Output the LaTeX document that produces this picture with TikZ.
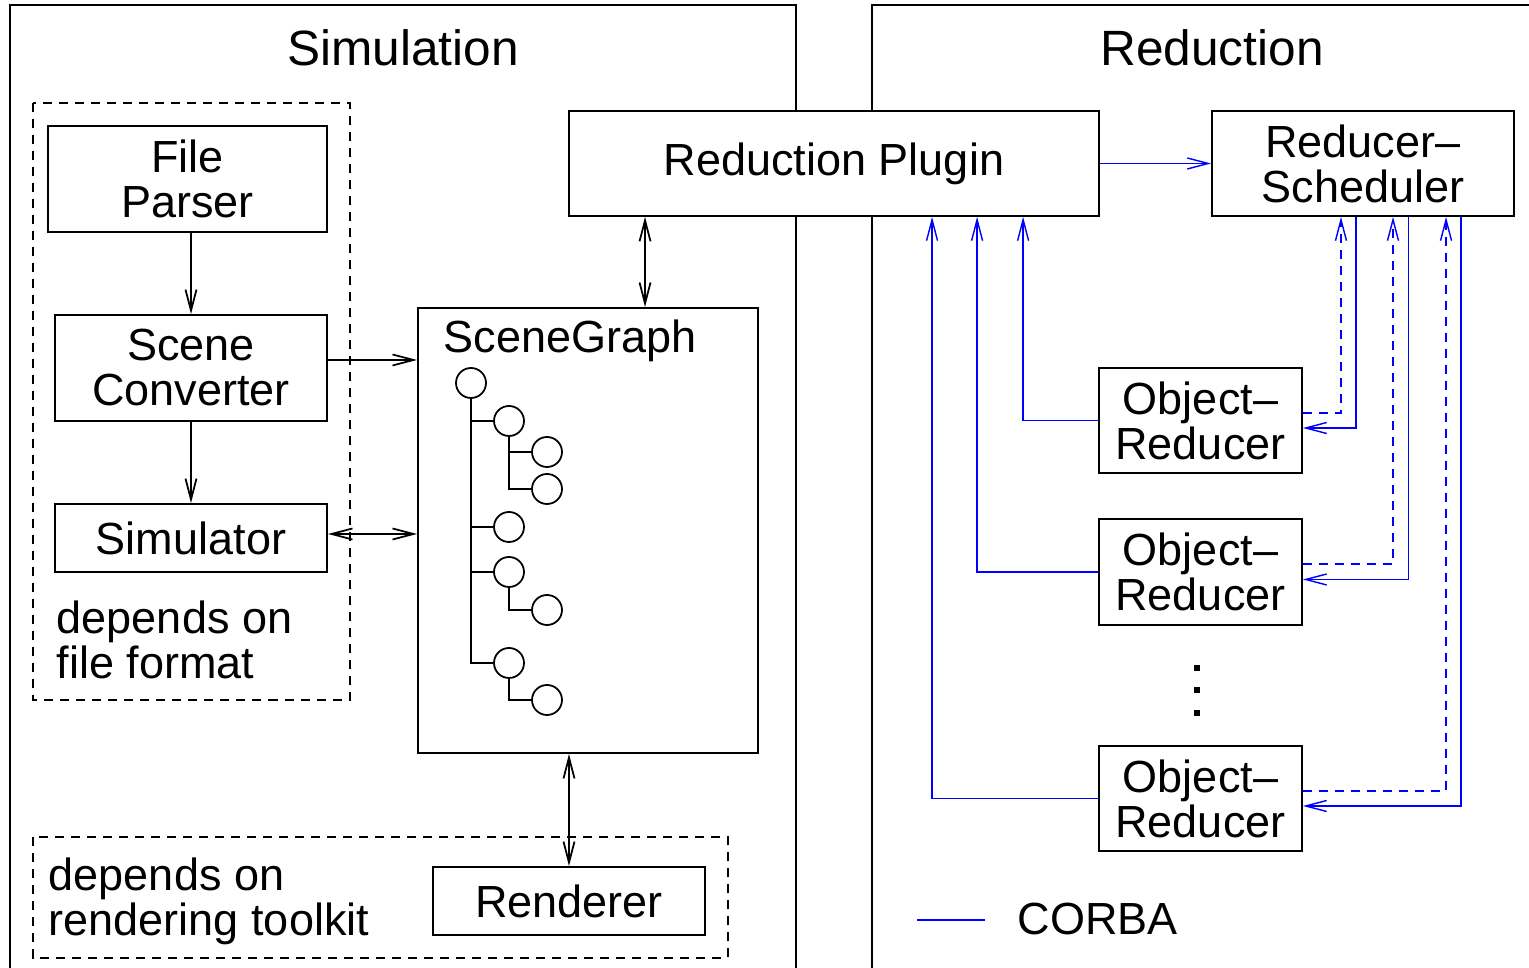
\documentclass[tikz,border=0pt]{standalone}
\usepackage{fontspec}
\setmainfont{Liberation Sans}
\usetikzlibrary{arrows.meta}

\begin{document}
\begin{tikzpicture}[x=0.01cm, y=-0.01cm, line width=0.5pt,
    >={Straight Barb[length=0.21cm, width=0.11cm]},
    txt/.style = {inner sep=0pt, font=\fontsize{12.8}{12.8}\selectfont},
    head/.style = {inner sep=0pt, font=\fontsize{14.1}{14.1}\selectfont},
    box/.style = {txt, draw, fill=white, align=center},
    sg/.style = {draw, circle, inner sep=0pt, minimum size=0.3cm},
    dsh/.style = {dash pattern=on 0.09cm off 0.07cm},
    corba/.style = {draw=blue, line width=0.4pt}]
    \useasboundingbox (0,0) rectangle (1529,968);

    \draw (10,968) |- (796,5) -- (796,968);
    \draw (872,968) |- (1529,5);
    \node[head, anchor=base] (simtitle) at (403,66) {Simulation};
    \node[head, anchor=base] (redtitle) at (1212,66) {Reduction};

    \draw[dsh] (33,103) rectangle (350,700);
    \draw[dsh] (33,837) rectangle (728,958);

    \node[box, minimum width=2.79cm, minimum height=1.06cm] (parser) at (187.5,179) {File\\Parser};
    \node[box, minimum width=2.72cm, minimum height=1.06cm] (conv) at (191,368) {Scene\\Converter};
    \node[box, minimum width=2.72cm, minimum height=0.68cm] (simu) at (191,538) {Simulator};
    \node[txt, anchor=north west, align=left] (dep1) at (56,600) {depends on\\file format};

    \node[box, minimum width=3.40cm, minimum height=4.45cm] (sgraph) at (588,530.5) {};
    \node[txt, anchor=base west] (sglabel) at (443,353) {SceneGraph};
    \node[box, minimum width=2.72cm, minimum height=0.68cm] (rend) at (569,901) {Renderer};
    \node[txt, anchor=north west, align=left] (dep2) at (48,857) {depends on\\rendering toolkit};

    \node[box, minimum width=5.30cm, minimum height=1.05cm] (rp) at (834,163.5) {Reduction Plugin};
    \node[box, minimum width=3.02cm, minimum height=1.05cm] (rs) at (1363,163.5) {Reducer–\\Scheduler};
    \node[box, minimum width=2.03cm, minimum height=1.05cm] (or1) at (1200.5,420.5) {Object–\\Reducer};
    \node[box, minimum width=2.03cm, minimum height=1.06cm] (or2) at (1200.5,572) {Object–\\Reducer};
    \node[box, minimum width=2.03cm, minimum height=1.05cm] (or3) at (1200.5,798.5) {Object–\\Reducer};
    \fill (1194,665) rectangle (1200,671);
    \fill (1194,687) rectangle (1200,693);
    \fill (1194,710) rectangle (1200,716);

    % scene graph tree
    \node[sg] (t0) at (471,383) {};
    \node[sg] (t1) at (509,421) {};
    \node[sg] (t2) at (509,527) {};
    \node[sg] (t3) at (509,572) {};
    \node[sg] (t4) at (509,663) {};
    \node[sg] (t11) at (547,452) {};
    \node[sg] (t12) at (547,489) {};
    \node[sg] (t31) at (547,610) {};
    \node[sg] (t41) at (547,700) {};
    \draw (t0) |- (t1);
    \draw (t0) |- (t2);
    \draw (t0) |- (t3);
    \draw (t0) |- (t4);
    \draw (t1) |- (t11);
    \draw (t1) |- (t12);
    \draw (t3) |- (t31);
    \draw (t4) |- (t41);

    % simulation side
    \coordinate (c1) at ([yshift=0.08cm]conv.east);
    \coordinate (c2) at ([yshift=0.04cm]simu.east);
    \coordinate (c3) at ([xshift=0.57cm]sgraph.north);
    \draw[->] (parser.south -| conv.north) -- (conv.north);
    \draw[->] (conv.south) -- (simu.north);
    \draw[->] (c1) -- (c1 -| sgraph.west);
    \draw[<->] (c2) -- (c2 -| sgraph.west);
    \draw[<->] (c3 |- rp.south) -- (c3);
    \draw[<->] (rend.north |- sgraph.south) -- (rend.north);

    % corba links
    \draw[corba, ->] (rp) -- (rs);
    \draw[corba, ->] (or1.west) -| ([xshift=1.89cm]rp.south);
    \draw[corba, ->] (or2.west) -| ([xshift=1.43cm]rp.south);
    \draw[corba, ->] (or3.west) -| ([xshift=0.98cm]rp.south);
    \draw[corba, dsh, ->] ([yshift=0.075cm]or1.east) -| ([xshift=-0.22cm]rs.south);
    \draw[corba, ->] ([xshift=-0.07cm]rs.south) |- ([yshift=-0.075cm]or1.east);
    \draw[corba, dsh, ->] ([yshift=0.08cm]or2.east) -| ([xshift=0.30cm]rs.south);
    \draw[corba, ->] ([xshift=0.455cm]rs.south) |- ([yshift=-0.075cm]or2.east);
    \draw[corba, dsh, ->] ([yshift=0.075cm]or3.east) -| ([xshift=0.83cm]rs.south);
    \draw[corba, ->] ([xshift=0.98cm]rs.south) |- ([yshift=-0.075cm]or3.east);

    \coordinate (k1) at (917,920);
    \coordinate (k2) at (985,920);
    \draw[corba] (k1) -- (k2);
    \node[txt, anchor=base west] (legend) at (1017,935) {CORBA};
\end{tikzpicture}
\end{document}
